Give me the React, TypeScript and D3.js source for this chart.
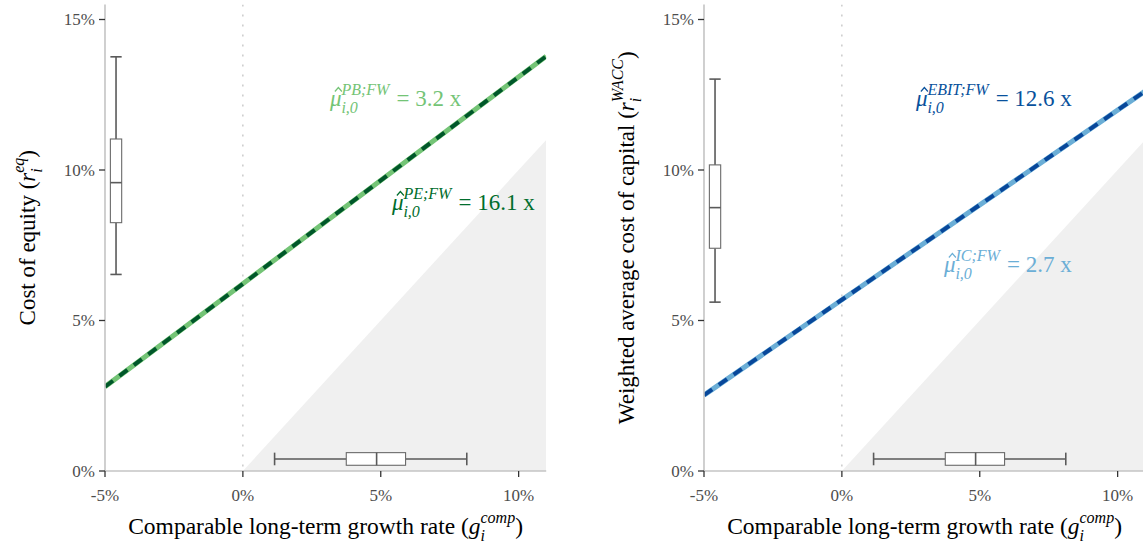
import React from "react";
import * as d3 from "d3";

// ---- data ----
const growth = [-5, 0, 11];
const costOfEquity = [2.8, 6.22, 13.78];
const wacc = [2.52, 5.69, 12.62];

// boxplot stats: [lower whisker, q1, median, q3, upper whisker]
const equityBoxStats = [6.53, 8.25, 9.58, 11.03, 13.76];
const waccBoxStats = [5.61, 7.4, 8.75, 10.17, 13.02];
const growthBoxStats = [1.15, 3.75, 4.85, 5.9, 8.12];

const xTicks = [-5, 0, 5, 10];
const yTicks = [0, 5, 10, 15];

const leftLabelNames = ["PB;FW", "PE;FW"];
const leftLabelValues = ["3.2", "16.1"];
const rightLabelNames = ["EBIT;FW", "IC;FW"];
const rightLabelValues = ["12.6", "2.7"];

const W = 1143;
const H = 545;
const FONT = "'Liberation Serif', 'DejaVu Serif', serif";

type PanelProps = {
  left: number;
  line: number[];
  lightColor: string;
  darkColor: string;
  box: number[];
  labels: { name: string; value: string; color: string; gx: number; ry: number }[];
  yTitle: React.ReactNode;
};

function Panel({ left, line, lightColor, darkColor, box, labels, yTitle }: PanelProps) {
  const x = d3.scaleLinear().domain([-5, 11]).range([left, left + 441.2]);
  const y = d3.scaleLinear().domain([0, 15.5]).range([471, 4.45]);
  const [x0, x1] = x.range();
  const [yb, yt] = y.range();
  const clipId = `clip-${left}`;

  const lineGen = d3
    .line<number>()
    .x((_, i) => x(growth[i]))
    .y((d) => y(d));
  const pathD = lineGen(line) || "";

  const infeasible = d3.line<[number, number]>()
    .x((d) => x(d[0]))
    .y((d) => y(d[1]))([
    [0, 0],
    [11, 11],
    [11, 0],
  ]) + "Z";

  // vertical box at g = -4.6
  const vbx = x(-4.6);
  const vhw = (x(-4.6 + 0.205) - x(-4.6));
  // horizontal growth box at r = 0.4
  const hby = y(0.4);
  const hhh = y(0.4 - 0.21) - y(0.4);

  const tickColor = "#333333";
  const labColor = "#4d4d4d";

  return (
    <g>
      <defs>
        <clipPath id={clipId}>
          <rect x={x0} y={yt} width={x1 - x0} height={yb - yt} />
        </clipPath>
      </defs>
      <g clipPath={`url(#${clipId})`}>
        <path d={infeasible} fill="#f0f0f0" />
        <line x1={x(0)} x2={x(0)} y1={yt} y2={yb} stroke="#bdbdbd" strokeWidth={1.2} strokeDasharray="2 8" />
        <path d={pathD} fill="none" stroke={lightColor} strokeWidth={5} />
        <path d={pathD} fill="none" stroke={darkColor} strokeWidth={4} strokeDasharray="10 8" />
      </g>

      {/* vertical boxplot */}
      <g stroke="#5a5a5a">
        <line x1={vbx} x2={vbx} y1={y(box[0])} y2={y(box[1])} strokeWidth={1.6} />
        <line x1={vbx} x2={vbx} y1={y(box[3])} y2={y(box[4])} strokeWidth={1.6} />
        <line x1={vbx - vhw} x2={vbx + vhw} y1={y(box[0])} y2={y(box[0])} strokeWidth={1.6} />
        <line x1={vbx - vhw} x2={vbx + vhw} y1={y(box[4])} y2={y(box[4])} strokeWidth={1.6} />
        <rect x={vbx - vhw} y={y(box[3])} width={2 * vhw} height={y(box[1]) - y(box[3])} fill="#fff" stroke="#6a6a6a" strokeWidth={1.1} />
        <line x1={vbx - vhw} x2={vbx + vhw} y1={y(box[2])} y2={y(box[2])} strokeWidth={1.6} />
      </g>

      {/* horizontal boxplot */}
      <g stroke="#5a5a5a">
        <line y1={hby} y2={hby} x1={x(growthBoxStats[0])} x2={x(growthBoxStats[1])} strokeWidth={1.6} />
        <line y1={hby} y2={hby} x1={x(growthBoxStats[3])} x2={x(growthBoxStats[4])} strokeWidth={1.6} />
        <line y1={hby - hhh} y2={hby + hhh} x1={x(growthBoxStats[0])} x2={x(growthBoxStats[0])} strokeWidth={1.6} />
        <line y1={hby - hhh} y2={hby + hhh} x1={x(growthBoxStats[4])} x2={x(growthBoxStats[4])} strokeWidth={1.6} />
        <rect x={x(growthBoxStats[1])} y={hby - hhh} width={x(growthBoxStats[3]) - x(growthBoxStats[1])} height={2 * hhh} fill="#fff" stroke="#6a6a6a" strokeWidth={1.1} />
        <line y1={hby - hhh} y2={hby + hhh} x1={x(growthBoxStats[2])} x2={x(growthBoxStats[2])} strokeWidth={1.6} />
      </g>

      {/* axes */}
      <line x1={x0} x2={x0} y1={yt} y2={yb} stroke="#c4c4c4" strokeWidth={1.6} />
      <line x1={x0} x2={x1} y1={yb} y2={yb} stroke="#c4c4c4" strokeWidth={1.6} />
      {yTicks.map((t) => (
        <g key={`y${t}`}>
          <line x1={x0 - 6} x2={x0} y1={y(t)} y2={y(t)} stroke={tickColor} strokeWidth={1.3} />
          <text x={x0 - 10} y={y(t)} dy="0.35em" textAnchor="end" fontSize={17} fill={labColor} fontFamily={FONT}>
            {`${t}%`}
          </text>
        </g>
      ))}
      {xTicks.map((t) => (
        <g key={`x${t}`}>
          <line x1={x(t)} x2={x(t)} y1={yb} y2={yb + 6} stroke={tickColor} strokeWidth={1.3} />
          <text x={x(t)} y={yb + 30} textAnchor="middle" fontSize={17} fill={labColor} fontFamily={FONT}>
            {`${t}%`}
          </text>
        </g>
      ))}

      {/* x title */}
      <text x={(x0 + x1) / 2} y={534} textAnchor="middle" fontSize={23.5} fill="#000" fontFamily={FONT}>
        Comparable long-term growth rate (<tspan fontStyle="italic">g</tspan>
        <tspan fontStyle="italic" fontSize={16} dy={7}>i</tspan>
        <tspan fontStyle="italic" fontSize={16} dx={-4.5} dy={-18}>comp</tspan>
        <tspan dy={11}>)</tspan>
      </text>

      {/* y title */}
      <g transform={`translate(${left - 70},${(yt + yb) / 2}) rotate(-90)`}>
        <text x={0} y={0} textAnchor="middle" fontSize={23} fill="#000" fontFamily={FONT}>
          {yTitle}
        </text>
      </g>

      {/* multiple labels */}
      {labels.map((l) => {
        const lx = x(l.gx);
        const ly = y(l.ry);
        return (
          <g key={l.name} fill={l.color} fontFamily={FONT}>
            <path
              d={`M${lx + 5},${ly - 14.5} L${lx + 8.5},${ly - 18.5} L${lx + 12},${ly - 14.5}`}
              fill="none"
              stroke={l.color}
              strokeWidth={1.2}
            />
            <text x={lx} y={ly} fontSize={23}>
              <tspan fontStyle="italic">{"\u03BC"}</tspan>
              <tspan fontStyle="italic" fontSize={16} dy={7}>i,0</tspan>
              <tspan fontStyle="italic" fontSize={16} dx={-16.4} dy={-18}>{l.name}</tspan>
              <tspan dx={7} dy={11}>{`= ${l.value} x`}</tspan>
            </text>
          </g>
        );
      })}
    </g>
  );
}

export default function App() {
  const g = d3.scaleLinear().domain([-5, 11]).range([0, 441.2]);
  const r = d3.scaleLinear().domain([0, 15.5]).range([471, 4.45]);
  // label anchor positions converted from pixel reading
  const gAt = (px: number, zero: number) => g.invert(px - zero + g(0));
  return (
    <svg width={W} height={H} style={{ position: "absolute", left: 0, top: 0 }}>
      <rect width={W} height={H} fill="#fff" />
      <Panel
        left={105}
        line={costOfEquity}
        lightColor="#74c476"
        darkColor="#00572a"
        box={equityBoxStats}
        labels={[
          { name: leftLabelNames[0], value: leftLabelValues[0], color: "#74c476", gx: gAt(330, 243), ry: r.invert(106) },
          { name: leftLabelNames[1], value: leftLabelValues[1], color: "#006d2c", gx: gAt(392, 243), ry: r.invert(210) },
        ]}
        yTitle={
          <>
            Cost of equity (<tspan fontStyle="italic">r</tspan>
            <tspan fontStyle="italic" fontSize={16} dy={7}>i</tspan>
            <tspan fontStyle="italic" fontSize={16} dx={-4.5} dy={-18}>eq</tspan>
            <tspan dy={11}>)</tspan>
          </>
        }
      />
      <Panel
        left={704}
        line={wacc}
        lightColor="#6baed6"
        darkColor="#08479a"
        box={waccBoxStats}
        labels={[
          { name: rightLabelNames[0], value: rightLabelValues[0], color: "#08519c", gx: gAt(916, 842), ry: r.invert(106) },
          { name: rightLabelNames[1], value: rightLabelValues[1], color: "#6baed6", gx: gAt(944, 842), ry: r.invert(272) },
        ]}
        yTitle={
          <>
            Weighted average cost of capital (<tspan fontStyle="italic">r</tspan>
            <tspan fontStyle="italic" fontSize={16} dy={7}>i</tspan>
            <tspan fontStyle="italic" fontSize={16} dx={-4.5} dy={-18}>WACC</tspan>
            <tspan dy={11}>)</tspan>
          </>
        }
      />
    </svg>
  );
}
